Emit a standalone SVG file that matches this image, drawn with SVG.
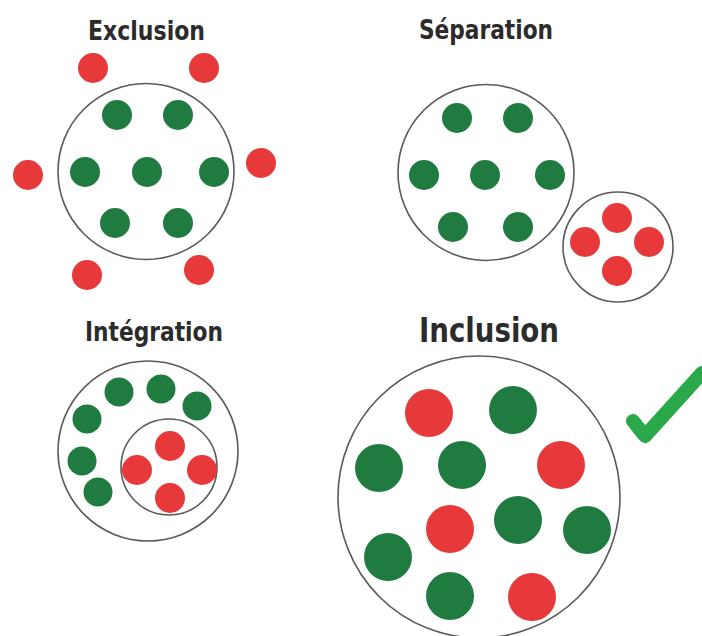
<svg xmlns="http://www.w3.org/2000/svg" width="702" height="636" viewBox="0 0 702 636">
<style>
.t{font-family:"DejaVu Sans Condensed","DejaVu Sans",sans-serif;font-weight:bold;fill:#2b2b2b}
.ring{fill:none;stroke:#5a5a5a;stroke-width:1.6}
.g{fill:#1f7b3f}
.r{fill:#e8393a}
</style>
<rect width="702" height="636" fill="#ffffff"/>
<g id="exclusion">
<text class="t" x="88" y="40" font-size="26" textLength="117" lengthAdjust="spacingAndGlyphs">Exclusion</text>
<circle class="ring" cx="146" cy="171.5" r="88"/>
<circle class="g" cx="117" cy="115" r="15"/>
<circle class="g" cx="178" cy="115" r="15"/>
<circle class="g" cx="85" cy="172" r="15"/>
<circle class="g" cx="147" cy="172" r="15"/>
<circle class="g" cx="214" cy="172" r="15"/>
<circle class="g" cx="115" cy="223" r="15"/>
<circle class="g" cx="178" cy="223" r="15"/>
<circle class="r" cx="93" cy="68" r="15"/>
<circle class="r" cx="204" cy="68" r="15"/>
<circle class="r" cx="28" cy="175" r="15"/>
<circle class="r" cx="261" cy="163" r="15"/>
<circle class="r" cx="87" cy="275" r="15"/>
<circle class="r" cx="199" cy="270" r="15"/>
</g>
<g id="separation">
<text class="t" x="419" y="39" font-size="26" textLength="134" lengthAdjust="spacingAndGlyphs">Séparation</text>
<circle class="ring" cx="486" cy="172.5" r="88"/>
<circle class="g" cx="457" cy="118" r="15"/>
<circle class="g" cx="518" cy="118" r="15"/>
<circle class="g" cx="424" cy="175" r="15"/>
<circle class="g" cx="485" cy="175" r="15"/>
<circle class="g" cx="550" cy="175" r="15"/>
<circle class="g" cx="453" cy="227" r="15"/>
<circle class="g" cx="518" cy="227" r="15"/>
<circle class="ring" cx="618" cy="247" r="55"/>
<circle class="r" cx="617" cy="218" r="15"/>
<circle class="r" cx="585" cy="242" r="15"/>
<circle class="r" cx="649" cy="242" r="15"/>
<circle class="r" cx="617" cy="271" r="15"/>
</g>
<g id="integration">
<text class="t" x="85" y="341" font-size="26" textLength="138" lengthAdjust="spacingAndGlyphs">Intégration</text>
<circle class="ring" cx="148" cy="451" r="90"/>
<circle class="ring" cx="169" cy="467" r="48"/>
<circle class="g" cx="119" cy="392" r="14.5"/>
<circle class="g" cx="161" cy="389" r="14.5"/>
<circle class="g" cx="197" cy="406" r="14.5"/>
<circle class="g" cx="87" cy="419" r="14.5"/>
<circle class="g" cx="82" cy="461" r="14.5"/>
<circle class="g" cx="98" cy="492" r="14.5"/>
<circle class="r" cx="170" cy="446" r="15"/>
<circle class="r" cx="137" cy="470" r="15"/>
<circle class="r" cx="202" cy="470" r="15"/>
<circle class="r" cx="170" cy="498" r="15"/>
</g>
<g id="inclusion">
<text class="t" x="419" y="342" font-size="34" textLength="140" lengthAdjust="spacingAndGlyphs">Inclusion</text>
<circle class="ring" cx="479" cy="497" r="141"/>
<circle class="r" cx="429" cy="413" r="24"/>
<circle class="r" cx="561" cy="465" r="24"/>
<circle class="r" cx="450" cy="529" r="24"/>
<circle class="r" cx="532" cy="597" r="24"/>
<circle class="g" cx="513" cy="410" r="24"/>
<circle class="g" cx="379" cy="468" r="24"/>
<circle class="g" cx="462" cy="465" r="24"/>
<circle class="g" cx="518" cy="520" r="24"/>
<circle class="g" cx="587" cy="530" r="24"/>
<circle class="g" cx="388" cy="557" r="24"/>
<circle class="g" cx="450" cy="596" r="24"/>
<path d="M633 421 L645 436 L702 373" fill="none" stroke="#2aa84a" stroke-width="14" stroke-linecap="round" stroke-linejoin="round"/>
</g>
</svg>
